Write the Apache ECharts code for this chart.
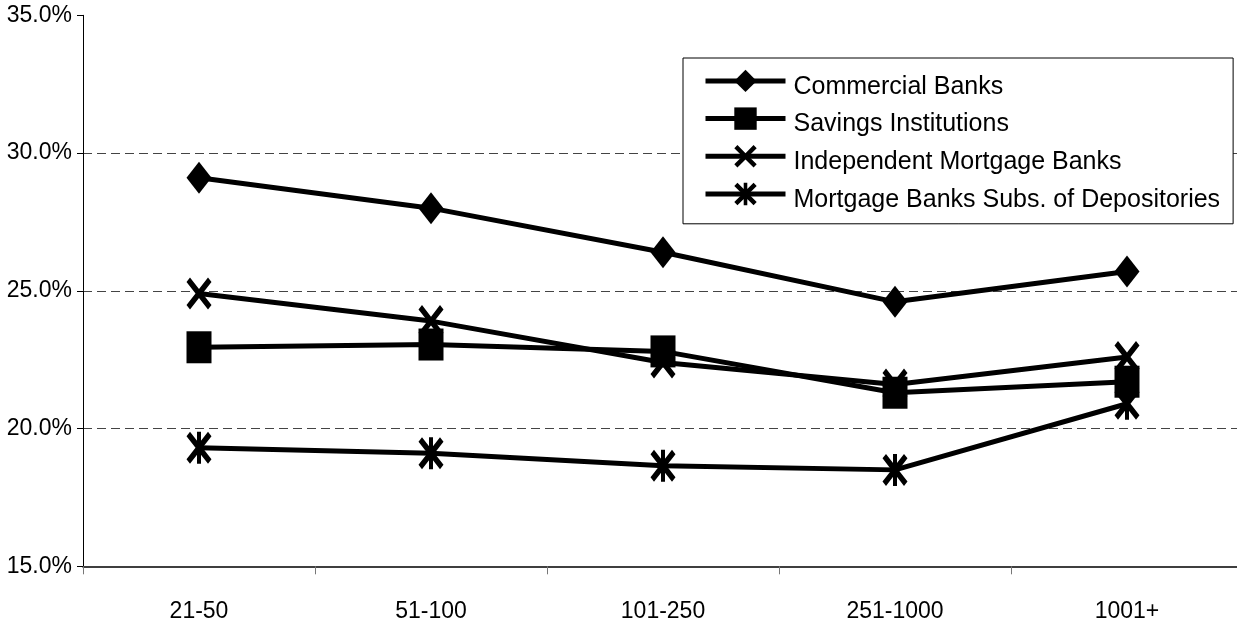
<!DOCTYPE html>
<html>
<head>
<meta charset="utf-8">
<title>Share by lender size</title>
<script src="https://cdn.jsdelivr.net/npm/echarts@6/dist/echarts.min.js"></script>
<style>
  html, body { margin: 0; padding: 0; background: #fff; }
  #chart { width: 1237px; height: 625px; }
</style>
</head>
<body>
<div id="chart"></div>
<script>
// Size classes along the horizontal axis
const categories = ['21-50', '51-100', '101-250', '251-1000', '1001+'];

// Percent values per lender type
const commercialBanks = [29.1, 28.0, 26.4, 24.6, 25.7];
const savingsInstitutions = [22.95, 23.05, 22.8, 21.3, 21.7];
const independentMortgageBanks = [24.9, 23.9, 22.4, 21.6, 22.6];
const mortgageBanksSubs = [19.3, 19.1, 18.65, 18.5, 20.9];

const seriesNames = [
  'Commercial Banks',
  'Savings Institutions',
  'Independent Mortgage Banks',
  'Mortgage Banks Subs. of Depositories'
];

// Marker shapes: diagonal cross and six-armed asterisk
const CROSS = 'path://M0,14 L14,0 L50,36 L86,0 L100,14 L64,50 L100,86 L86,100 L50,64 L14,100 L0,86 L36,50 Z';
const ASTERISK = 'path://M0,14 L14,0 L50,36 L86,0 L100,14 L64,50 L100,86 L86,100 L50,64 L14,100 L0,86 L36,50 Z M42,0 L58,0 L58,100 L42,100 Z';

const textFont = "'Liberation Sans', Arial, sans-serif";

function lineSeries(name, data, symbol, z) {
  return {
    name: name,
    type: 'line',
    data: data,
    symbol: symbol,
    symbolSize: [25, 32],
    showAllSymbol: true,
    z: z,
    lineStyle: { color: '#000', width: 5 },
    itemStyle: { color: '#000' },
    emphasis: { disabled: true }
  };
}

const chart = echarts.init(document.getElementById('chart'), null, { renderer: 'canvas' });

chart.setOption({
  animation: false,
  backgroundColor: '#fff',
  grid: {
    left: 83, right: -6, top: 15.3, bottom: 58.7,
    containLabel: false,
    outerBoundsMode: 'none'
  },
  legend: {
    orient: 'vertical',
    left: 683,
    top: 58,
    align: 'left',
    itemWidth: 80,
    itemHeight: 28,
    itemGap: 0.7,
    padding: [4.4, 13, 11.3, 20],
    backgroundColor: '#fff',
    borderColor: '#000',
    borderWidth: 1,
    borderRadius: 0,
    selectedMode: false,
    lineStyle: { color: '#000', width: 5 },
    // legend names sit slightly below the icon line
    formatter: function (name) { return '{t|' + name + '}'; },
    textStyle: {
      fontFamily: textFont,
      fontSize: 25,
      color: '#000',
      rich: {
        t: {
          fontFamily: textFont,
          fontSize: 25,
          color: '#000',
          lineHeight: 28,
          padding: [12, 0, 0, 3]
        }
      }
    },
    data: seriesNames
  },
  xAxis: {
    type: 'category',
    data: categories,
    boundaryGap: true,
    axisLine: { lineStyle: { color: '#000', width: 1.5 } },
    axisTick: { show: true, length: 8, interval: 0, lineStyle: { color: '#777', width: 1 } },
    axisLabel: {
      fontFamily: textFont,
      fontSize: 23,
      color: '#000',
      margin: 34,
      interval: 0
    },
    splitLine: { show: false }
  },
  yAxis: {
    type: 'value',
    min: 15,
    max: 35,
    interval: 5,
    axisLine: { show: true, lineStyle: { color: '#000', width: 1 } },
    axisTick: { show: true, length: 6, lineStyle: { color: '#000', width: 1 } },
    axisLabel: {
      fontFamily: textFont,
      fontSize: 23,
      color: '#000',
      margin: 11,
      padding: [5, 0, 0, 0],
      formatter: function (v) { return v.toFixed(1) + '%'; }
    },
    splitLine: {
      show: true,
      showMinLine: false,
      showMaxLine: false,
      lineStyle: { color: '#444', width: 1, type: [9, 5] }
    }
  },
  series: [
    lineSeries(seriesNames[0], commercialBanks, 'diamond', 3),
    lineSeries(seriesNames[1], savingsInstitutions, 'rect', 5),
    lineSeries(seriesNames[2], independentMortgageBanks, CROSS, 4),
    lineSeries(seriesNames[3], mortgageBanksSubs, ASTERISK, 2)
  ]
});
</script>
</body>
</html>
